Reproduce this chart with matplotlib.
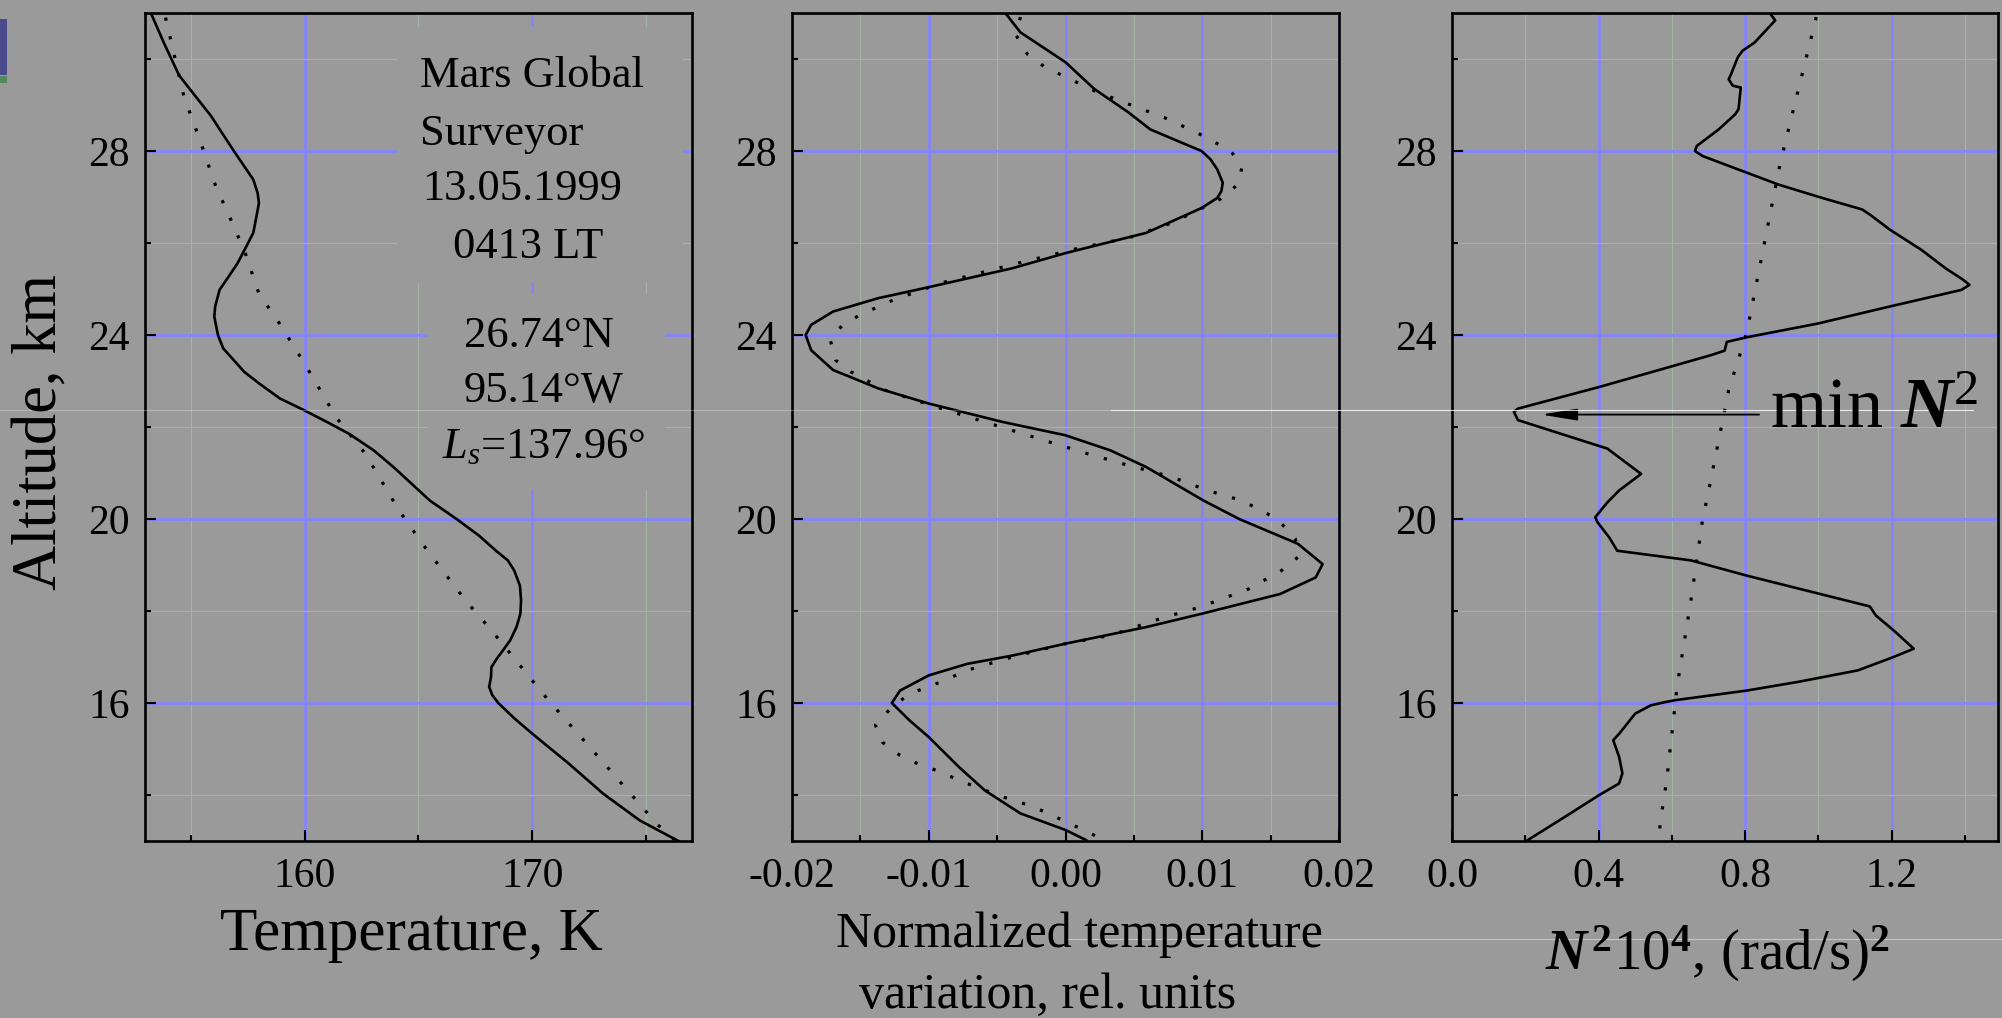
import matplotlib
matplotlib.use("Agg")
import matplotlib.pyplot as plt
from matplotlib.ticker import MultipleLocator, FormatStrFormatter
from matplotlib.patches import Rectangle
from matplotlib.lines import Line2D

plt.rcParams['font.family'] = ['Liberation Serif', 'DejaVu Serif']
plt.rcParams['axes.unicode_minus'] = False
plt.rcParams['mathtext.fontset'] = 'custom'
plt.rcParams['mathtext.rm'] = 'Liberation Serif'
plt.rcParams['mathtext.it'] = 'Liberation Serif:style=italic'
plt.rcParams['mathtext.bf'] = 'Liberation Serif:style=italic:weight=bold'
plt.rcParams['mathtext.sf'] = 'Liberation Serif:weight=bold'

# ---------------- data ----------------
# Panel 1: temperature profile (solid) and smoothed background (dotted)
temp_alt = [31.02, 30.36, 29.64, 29.2, 28.76, 28.4, 28.0, 27.67, 27.38, 27.09, 26.87, 26.55,
            26.22, 25.93, 25.56, 25.27, 24.98, 24.62, 24.4, 24.0, 23.71, 23.45, 23.2, 22.95,
            22.62, 22.36, 22.11, 21.85, 21.49, 21.13, 20.4, 20.0, 19.64, 19.31, 19.1, 18.88,
            18.55, 18.23, 17.94, 17.65, 17.36, 17.14, 16.96, 16.78, 16.56, 16.35, 16.17, 16.0,
            15.66, 15.33, 14.68, 14.03, 13.45, 13.0]
temp_val = [153.24, 153.82, 154.5, 155.2, 155.9, 156.37, 156.9, 157.35, 157.75, 157.94, 158.0,
            157.88, 157.75, 157.45, 157.06, 156.67, 156.27, 156.08, 156.04, 156.2, 156.43,
            156.9, 157.35, 158.0, 158.92, 160.0, 160.98, 161.96, 163.04, 163.9, 165.5, 166.67,
            167.65, 168.4, 168.92, 169.2, 169.45, 169.5, 169.47, 169.3, 169.02, 168.7, 168.43,
            168.2, 168.18, 168.1, 168.24, 168.5, 169.22, 170.0, 171.6, 173.1, 174.7, 176.4]
tbg_alt = [30.9, 29.2, 28.25, 27.24, 26.47, 25.78, 24.9, 24.25, 23.38, 22.2, 21.4, 20.47,
           20.0, 19.31, 18.23, 17.58, 16.85, 16.06, 15.05, 14.03, 13.35, 13.0]
tbg_val = [153.9, 154.7, 155.4, 156.1, 156.8, 157.4, 158.0, 158.9, 160.0, 161.4, 162.7, 163.8,
           164.4, 165.4, 167.06, 168.2, 169.4, 170.7, 172.5, 174.3, 175.5, 176.3]

# Panel 2: normalized temperature variation (solid) and fit (dotted)
norm_alt = [31.0, 30.58, 29.93, 29.35, 28.84, 28.47, 28.18, 28.0, 27.82, 27.6, 27.31, 27.13,
            26.98, 26.76, 26.22, 25.78, 25.45, 25.04, 24.8, 24.51, 24.22, 24.0, 23.67, 23.24,
            22.84, 22.51, 22.11, 21.82, 21.49, 21.13, 20.4, 20.0, 19.46, 19.02, 18.73, 18.37,
            17.94, 17.65, 17.29, 17.03, 16.85, 16.6, 16.27, 16.0, 15.62, 15.26, 14.61, 14.1,
            13.6, 13.24, 13.02]
norm_val = [-0.0044, -0.0033, 0.0, 0.0021, 0.0046, 0.0062, 0.0085, 0.00995, 0.0106, 0.0111,
            0.0115, 0.0114, 0.0111, 0.00995, 0.0059, 0.0, -0.0039, -0.01, -0.0137, -0.017,
            -0.0186, -0.019, -0.0186, -0.017, -0.0137, -0.01, -0.0046, 0.0, 0.0033, 0.0059,
            0.0101, 0.0127, 0.017, 0.0188, 0.0183, 0.0157, 0.00995, 0.0059, 0.0, -0.0039,
            -0.0072, -0.01, -0.0121, -0.0127, -0.0114, -0.01, -0.0078, -0.0059, -0.0033, 0.0,
            0.0015]
nfit_alt = [30.91, 30.51, 30.11, 29.82, 29.64, 29.31, 29.02, 28.73, 28.4, 28.0, 27.64, 27.27,
            26.95, 26.44, 26.11, 25.89, 25.53, 25.13, 24.76, 24.44, 24.22, 23.89, 23.45, 23.2,
            22.8, 22.44, 22.11, 21.75, 21.42, 21.2, 20.91, 20.62, 20.4, 20.0, 19.57, 19.17,
            18.88, 18.48, 18.08, 17.86, 17.47, 17.29, 17.0, 16.71, 16.46, 16.2, 15.91, 15.52,
            15.15, 14.86, 14.68, 14.54, 14.25, 13.96, 13.74, 13.38, 13.2, 13.02]
nfit_val = [-0.0033, -0.0036, -0.0028, -0.0015, -0.0002, 0.0021, 0.0046, 0.0072, 0.0096,
            0.0121, 0.0129, 0.0126, 0.0113, 0.0078, 0.0046, 0.001, -0.0039, -0.0091, -0.0126,
            -0.015, -0.0163, -0.0172, -0.0168, -0.0157, -0.0132, -0.0095, -0.0059, -0.002,
            0.0016, 0.0042, 0.0078, 0.0104, 0.0129, 0.0155, 0.0168, 0.017, 0.0158, 0.0134,
            0.0098, 0.0072, 0.0033, 0.0, -0.0039, -0.0072, -0.0091, -0.0114, -0.0127, -0.0139,
            -0.0134, -0.0121, -0.0108, -0.0095, -0.0072, -0.0046, -0.0023, 0.0003, 0.0016, 0.0028]

# Panel 3: Brunt-Vaisala frequency squared (solid) and background (dotted)
bv_alt = [30.98, 30.84, 30.36, 30.18, 30.04, 29.64, 29.56, 29.42, 29.38, 28.91, 28.8, 28.47,
          28.11, 28.0, 27.89, 27.53, 27.27, 26.98, 26.73, 26.62, 26.29, 25.85, 25.45, 25.2,
          25.09, 24.98, 24.62, 24.25, 23.95, 23.85, 23.66, 23.56, 22.87, 22.4, 22.33, 22.15,
          21.86, 21.53, 20.98, 20.62, 20.36, 20.04, 19.93, 19.6, 19.31, 19.1, 18.77, 18.1,
          17.9, 17.58, 17.18, 17.0, 16.71, 16.46, 16.27, 16.06, 16.01, 15.95, 15.77, 15.33,
          15.19, 14.83, 14.47, 14.25, 14.0, 13.56, 13.02]
bv_val = [0.869, 0.882, 0.826, 0.793, 0.78, 0.76, 0.755, 0.766, 0.788, 0.782, 0.773, 0.728,
          0.668, 0.663, 0.684, 0.804, 0.891, 1.01, 1.119, 1.14, 1.195, 1.281, 1.347, 1.395,
          1.412, 1.39, 1.195, 0.999, 0.804, 0.75, 0.744, 0.706, 0.402, 0.18, 0.169, 0.18,
          0.294, 0.424, 0.516, 0.456, 0.424, 0.391, 0.397, 0.429, 0.451, 0.652, 0.804, 1.14,
          1.157, 1.205, 1.26, 1.205, 1.108, 0.945, 0.804, 0.608, 0.576, 0.543, 0.5, 0.456,
          0.44, 0.456, 0.465, 0.456, 0.402, 0.315, 0.207]
bvbg_alt = [30.91, 27.75, 24.04, 22.8, 20.4, 20.0, 18.23, 16.35, 14.39, 13.38, 13.02]
bvbg_val = [0.994, 0.896, 0.804, 0.755, 0.695, 0.684, 0.652, 0.614, 0.587, 0.568, 0.565]

y_ticks = [16, 20, 24, 28]
info_lines = ["Mars Global", "Surveyor", "13.05.1999", "0413 LT",
              "26.74°N", "95.14°W", r"$\mathit{L}_{\mathit{s}}$=137.96°"]

# ---------------- figure ----------------
W, H = 2002, 1018
BG = '#9a9a9a'
MAJ = '#8484ff'
MIN = '#a4b4a4'
fig = plt.figure(figsize=(W / 100, H / 100), dpi=100, facecolor=BG)


def fx(x):
    return x / W


def fy(y):
    return 1 - y / H


top, bot = 13, 841
ax_specs = [(145, 692), (792, 1339), (1452, 1998)]
axes = []
for l, r in ax_specs:
    ax = fig.add_axes([fx(l), fy(bot), (r - l) / W, (bot - top) / H])
    ax.set_facecolor(BG)
    axes.append(ax)
ax1, ax2, ax3 = axes

xlims = [(153, 177), (-0.02, 0.02), (0.0, 1.49)]
xmaj = [10, 0.01, 0.4]
xmin_ = [5, 0.005, 0.2]
xfmt = ['%d', '%.2f', '%.1f']
for ax, xl, ma, mi, fm in zip(axes, xlims, xmaj, xmin_, xfmt):
    ax.set_xlim(*xl)
    ax.set_ylim(13, 31)
    ax.xaxis.set_major_locator(MultipleLocator(ma))
    ax.xaxis.set_minor_locator(MultipleLocator(mi))
    ax.xaxis.set_major_formatter(FormatStrFormatter(fm))
    ax.set_yticks(y_ticks)
    ax.yaxis.set_minor_locator(MultipleLocator(2))
    ax.set_axisbelow(True)
    ax.grid(which='major', color=MAJ, lw=2.0)
    ax.grid(which='minor', color=MIN, lw=0.8)
    ax.tick_params(which='both', direction='in', top=False, right=False,
                   width=1.5, color='black', labelsize=30)
    ax.tick_params(which='major', length=8)
    ax.tick_params(which='minor', length=4.5)
    ax.tick_params(axis='x', pad=12)
    ax.tick_params(axis='y', pad=11)
    for s in ax.spines.values():
        s.set_linewidth(1.9)
        s.set_color('black')

ax2.set_xticks([-0.02, -0.01, 0.0, 0.01, 0.02])
ax3.set_xticks([0.0, 0.4, 0.8, 1.2])

dot_style = dict(color='black', lw=2.3, linestyle=(0, (1, 5)))
solid_style = dict(color='black', lw=1.9, solid_joinstyle='round')

ax1.plot(temp_val, temp_alt, **solid_style, zorder=3)
ax1.plot(tbg_val, tbg_alt, **dot_style, zorder=3)
ax2.plot(norm_val, norm_alt, **solid_style, zorder=3)
ax2.plot(nfit_val, nfit_alt, **dot_style, zorder=3)
ax3.plot(bv_val, bv_alt, **solid_style, zorder=3)
ax3.plot(bvbg_val, bvbg_alt, **dot_style, zorder=3)

# grey boxes behind the annotation text in panel 1 (hide the grid there)
ax1.add_patch(Rectangle((0.4607, 0.674), 0.9835 - 0.4607, 0.983 - 0.674,
                        transform=ax1.transAxes, facecolor=BG, edgecolor='none', zorder=1))
ax1.add_patch(Rectangle((0.5174, 0.4239), 0.9506 - 0.5174, 0.6618 - 0.4239,
                        transform=ax1.transAxes, facecolor=BG, edgecolor='none', zorder=1))

info_pos = [(420, 87), (420, 145), (422, 200), (453, 258), (464, 347), (464, 402), (442, 458)]
for txt, (px, py) in zip(info_lines, info_pos):
    fig.text(fx(px), fy(py), txt, fontsize=32, ha='left', va='baseline', zorder=5)

# axis labels
fig.text(fx(41), fy(432), "Altitude, km", rotation=90, fontsize=45, ha='center', va='center')
fig.text(fx(411), fy(950), "Temperature, K", fontsize=44, ha='center', va='baseline')
fig.text(fx(1079), fy(947), "Normalized temperature", fontsize=36, ha='center', va='baseline')
fig.text(fx(1048), fy(1008), "variation, rel. units", fontsize=36, ha='center', va='baseline')
fig.text(fx(1717), fy(970), r"$\mathbf{N}^{\,\mathsf{2}}$10$^{\mathsf{4}}$, (rad/s)$^{\mathsf{2}}$",
         fontsize=41, ha='center', va='baseline')

# min N^2 annotation
ax3.annotate('', xy=(0.243, 22.27), xytext=(0.838, 22.27),
             arrowprops=dict(arrowstyle='-|>,head_length=1.1,head_width=0.18',
                             mutation_scale=20, color='black', lw=1.3, shrinkA=0, shrinkB=0),
             zorder=4)
fig.text(fx(1770), fy(428), r"min $\mathbf{N}^{\mathrm{2}}$", fontsize=52, ha='left', va='baseline')

# faint scan artefacts of the original image
fig.add_artist(Line2D([fx(0), fx(1111)], [fy(410), fy(410)], color='white', alpha=0.3, lw=0.8))
fig.add_artist(Line2D([fx(1111), fx(1973)], [fy(410), fy(410)], color='white', alpha=0.8, lw=0.8))
fig.add_artist(Line2D([fx(1068), fx(2002)], [fy(939), fy(939)], color='white', alpha=0.45, lw=0.8))
fig.add_artist(Rectangle((0, fy(75)), fx(7), fy(19) - fy(75), transform=fig.transFigure,
                         facecolor='#4b4a8c', edgecolor='none'))
fig.add_artist(Rectangle((0, fy(83)), fx(7), fy(76) - fy(83), transform=fig.transFigure,
                         facecolor='#4f8a5a', edgecolor='none'))

fig.savefig('out.png', dpi=100, facecolor=BG)
